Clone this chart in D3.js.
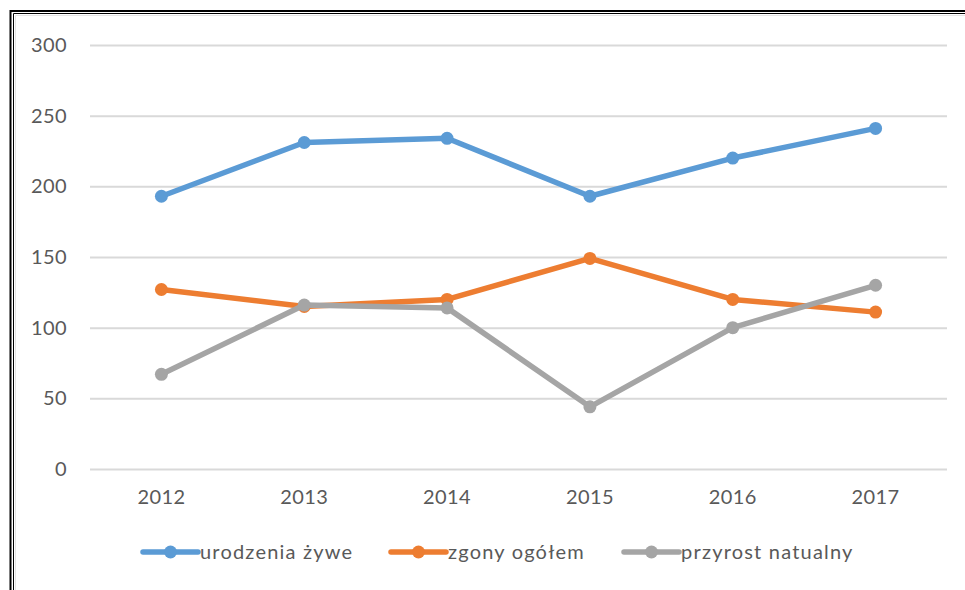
<!DOCTYPE html>
<html>
<head>
<meta charset="utf-8">
<script src="https://cdn.jsdelivr.net/npm/d3@7"></script>
<style>
  body { margin: 0; background: #fff; }
  svg { display: block; }
  text { font-family: Lato, "Open Sans", sans-serif; fill: #595959; }
</style>
</head>
<body>
<svg id="chart" width="965" height="590"></svg>
<script>
// data
var years = ["2012", "2013", "2014", "2015", "2016", "2017"];
var urodzenia = [193, 231, 234, 193, 220, 241];
var zgony = [127, 115, 120, 149, 120, 111];
var przyrost = [67, 116, 114, 44, 100, 130];
var yTicks = [0, 50, 100, 150, 200, 250, 300];

var series = [
  { name: "urodzenia żywe", values: urodzenia, color: "#5b9bd5" },
  { name: "zgony ogółem", values: zgony, color: "#ed7d31" },
  { name: "przyrost natualny", values: przyrost, color: "#a5a5a5" }
];

var svg = d3.select("#chart");

// frame: double line on top and left (picture is cropped on the other sides)
svg.append("path")
  .attr("d", "M10.5,590V11H965")
  .attr("fill", "none").attr("stroke", "#000").attr("stroke-width", 2);
svg.append("path")
  .attr("d", "M13.5,590V13.5H965")
  .attr("fill", "none").attr("stroke", "#000").attr("stroke-width", 1);
svg.append("path")
  .attr("d", "M15.5,590V15.5H965")
  .attr("fill", "none").attr("stroke", "#e4e4e4").attr("stroke-width", 1);

var plotL = 90, plotR = 947, plotT = 45, plotB = 469;

var x = d3.scaleBand().domain(years).range([plotL, plotR]);
var y = d3.scaleLinear().domain([0, 300]).range([plotB, plotT]);

// gridlines + y labels
var yAxis = svg.append("g")
  .attr("transform", "translate(" + plotL + ",0)")
  .call(d3.axisLeft(y).tickValues(yTicks).tickSize(-(plotR - plotL)).tickPadding(23));
yAxis.select(".domain").remove();
yAxis.selectAll(".tick line").attr("stroke", "#d9d9d9").attr("stroke-width", 2);
yAxis.selectAll(".tick text")
  .style("font-size", "20px").style("font-family", "Lato, 'Open Sans', sans-serif")
  .style("letter-spacing", "0.4px")
  .attr("fill", "#595959");

// x labels
var xAxis = svg.append("g")
  .attr("transform", "translate(0," + plotB + ")")
  .call(d3.axisBottom(x).tickSize(0).tickPadding(21));
xAxis.select(".domain").remove();
xAxis.selectAll(".tick text")
  .style("font-size", "20px").style("font-family", "Lato, 'Open Sans', sans-serif")
  .style("letter-spacing", "0.4px")
  .attr("fill", "#595959");

var cx = function (d, i) { return x(years[i]) + x.bandwidth() / 2; };
var line = d3.line().x(cx).y(function (d) { return y(d); });

var g = svg.selectAll(".series")
  .data(series)
  .enter()
  .append("g")
  .attr("class", "series");

g.append("path")
  .attr("d", function (d) { return line(d.values); })
  .attr("fill", "none")
  .attr("stroke", function (d) { return d.color; })
  .attr("stroke-width", 5.5)
  .attr("stroke-linejoin", "round")
  .attr("stroke-linecap", "round");

g.each(function (s) {
  d3.select(this).selectAll("circle")
    .data(s.values)
    .enter()
    .append("circle")
    .attr("cx", cx)
    .attr("cy", function (d) { return y(d); })
    .attr("r", 6.5)
    .attr("fill", s.color);
});

// legend
var legendX = [143, 391, 624];
var legend = svg.selectAll(".legend")
  .data(series)
  .enter()
  .append("g")
  .attr("class", "legend")
  .attr("transform", function (d, i) { return "translate(" + legendX[i] + ",552)"; });

legend.append("line")
  .attr("x1", 0).attr("x2", 55)
  .attr("stroke", function (d) { return d.color; })
  .attr("stroke-width", 5.5)
  .attr("stroke-linecap", "round");
legend.append("circle")
  .attr("cx", 27.5).attr("r", 6.5)
  .attr("fill", function (d) { return d.color; });
legend.append("text")
  .attr("x", 57)
  .attr("dy", "0.33em")
  .style("font-size", "20px")
  .style("letter-spacing", "1.2px")
  .text(function (d) { return d.name; });
</script>
</body>
</html>
